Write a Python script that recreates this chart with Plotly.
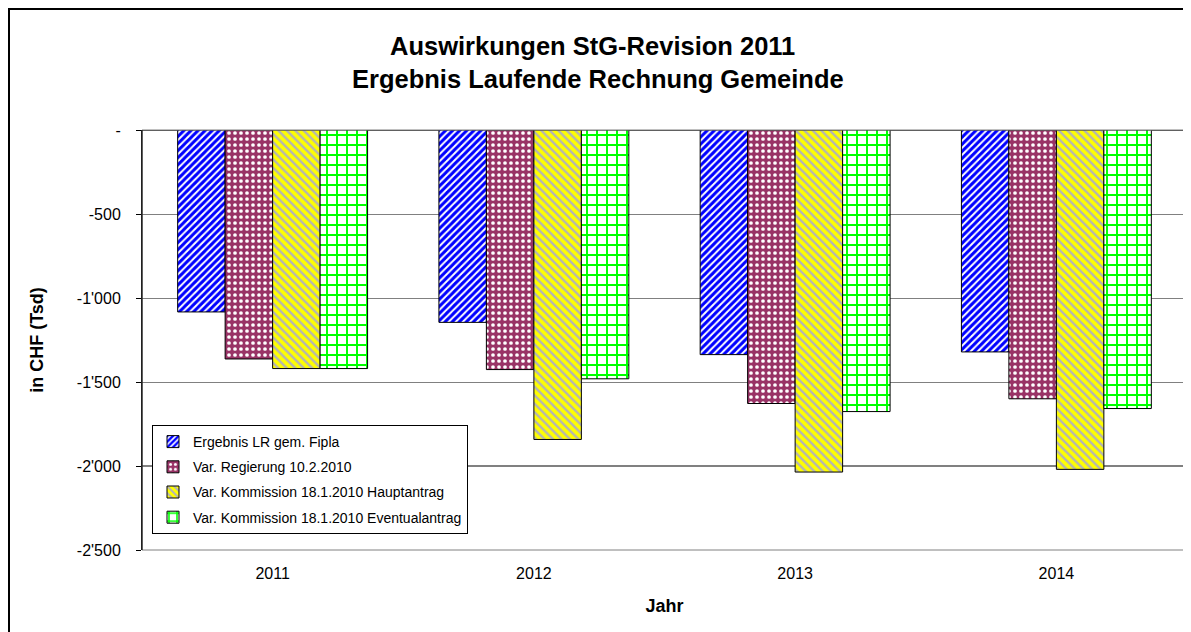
import plotly.graph_objects as go

years = ["2011", "2012", "2013", "2014"]
series_names = [
    "Ergebnis LR gem. Fipla",
    "Var. Regierung 10.2.2010",
    "Var. Kommission 18.1.2010 Hauptantrag",
    "Var. Kommission 18.1.2010 Eventualantrag",
]
ergebnis_fipla = [-1083, -1145, -1337, -1321]
var_regierung = [-1363, -1426, -1628, -1600]
var_haupt = [-1420, -1842, -2036, -2020]
var_eventual = [-1420, -1481, -1676, -1658]

y_tickvals = [0, -500, -1000, -1500, -2000, -2500]
y_ticktext = ["-", "-500", "-1'000", "-1'500", "-2'000", "-2'500"]

FONT = "Liberation Sans, Arial, sans-serif"

patterns = [
    dict(shape="/", fgcolor="#0000FF", bgcolor="#FFFFFF", size=5, solidity=0.6, fgopacity=1),
    dict(shape=".", fgcolor="#FFFFFF", bgcolor="#993366", size=6, solidity=0.3, fgopacity=1),
    dict(shape="\\", fgcolor="#B4B4B4", bgcolor="#FFFF00", size=6, solidity=0.4, fgopacity=1),
    dict(shape="+", fgcolor="#00FF00", bgcolor="#FFFFFF", size=10, solidity=0.35, fgopacity=1),
]
values = [ergebnis_fipla, var_regierung, var_haupt, var_eventual]

fig = go.Figure()
for i, (name, vals, pat) in enumerate(zip(series_names, values, patterns)):
    fig.add_trace(go.Bar(
        x=years, y=vals, name=name, legendgroup=f"g{i}",
        marker=dict(color=pat["bgcolor"], pattern=pat,
                    line=dict(color="#000000", width=1)),
    ))

# page body has an 8px margin; figure placed at (8, 8)
OFF = 8
W, H = 1191 - OFF, 632 - OFF
L, T = 142 - OFF, 130 - OFF
R = W - (1187 - OFF)
B = H - (550 - OFF)
pw, ph = W - L - R, H - T - B

def px_to_paper(xp, yp):
    # xp, yp: page pixel coordinates
    return (xp - OFF - L) / pw, (H - B - (yp - OFF)) / ph

fx0, fy0 = px_to_paper(OFF + 1, OFF + 1)
fx1, fy1 = px_to_paper(1200, 640)

fig.update_layout(
    width=W, height=H,
    margin=dict(l=L, r=R, t=T, b=B, autoexpand=False),
    paper_bgcolor="white", plot_bgcolor="white",
    barmode="group", bargap=0.273, bargroupgap=0,
    font=dict(family=FONT, size=16, color="black"),
    showlegend=True,
    legend=dict(
        x=px_to_paper(152, 0)[0], y=px_to_paper(0, 425)[1],
        xanchor="left", yanchor="top",
        bgcolor="white", bordercolor="black", borderwidth=1,
        font=dict(family=FONT, size=14, color="black"),
        tracegroupgap=4, itemwidth=30,
    ),
    xaxis=dict(
        showgrid=False, ticks="", showline=False,
        tickfont=dict(family=FONT, size=16), ticklabelstandoff=12,
        title=dict(text="<b>Jahr</b>", font=dict(family=FONT, size=18), standoff=18),
    ),
    yaxis=dict(
        range=[-2500, 0], tickvals=y_tickvals, ticktext=y_ticktext,
        showgrid=True, gridcolor="#808080", gridwidth=1,
        zeroline=True, zerolinecolor="#404040", zerolinewidth=1,
        showline=True, linecolor="black", linewidth=1,
        ticks="outside", ticklen=5, tickcolor="black",
        tickfont=dict(family=FONT, size=16), ticklabelstandoff=12,
        title=dict(text="<b>in CHF (Tsd)</b>", font=dict(family=FONT, size=18), standoff=28),
    ),
    shapes=[
        dict(type="rect", xref="paper", yref="paper", x0=0, x1=1, y0=0, y1=1,
             line=dict(color="#808080", width=1), layer="above"),
        dict(type="line", xref="paper", yref="paper", x0=0, x1=0, y0=0, y1=1,
             line=dict(color="black", width=1), layer="above"),
        dict(type="line", xref="paper", yref="y", x0=0, x1=1, y0=-2000, y1=-2000,
             line=dict(color="black", width=1), layer="below"),
        dict(type="rect", xref="paper", yref="paper", x0=fx0, x1=fx1, y0=fy1, y1=fy0,
             line=dict(color="black", width=2), layer="above"),
    ],
    annotations=[
        dict(text="<b>Auswirkungen StG-Revision 2011</b>", xref="paper", yref="paper",
             x=px_to_paper(592, 0)[0], y=px_to_paper(0, 46)[1],
             showarrow=False, xanchor="center", yanchor="middle",
             font=dict(family=FONT, size=25.5, color="black")),
        dict(text="<b>Ergebnis Laufende Rechnung Gemeinde</b>", xref="paper", yref="paper",
             x=px_to_paper(598, 0)[0], y=px_to_paper(0, 79)[1],
             showarrow=False, xanchor="center", yanchor="middle",
             font=dict(family=FONT, size=25.5, color="black")),
    ],
)

fig.write_html("out.html")
